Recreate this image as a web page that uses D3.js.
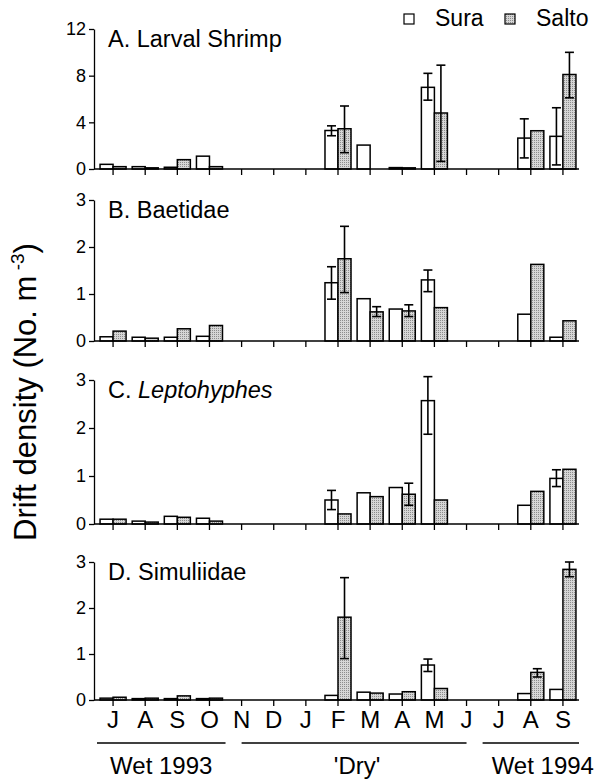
<!DOCTYPE html>
<html>
<head>
<meta charset="utf-8">
<script src="https://cdn.jsdelivr.net/npm/d3@7"></script>
<style>
  body { margin: 0; background: #fff; }
  svg { display: block; font-family: "Liberation Sans", Arial, sans-serif; }
  .axis path, .axis line { stroke: #000; stroke-width: 1.3; }
  .axis text { fill: #000; }
</style>
</head>
<body>
<script>
"use strict";

// months Jul 1993 .. Sep 1994
var monthLabels = ["J", "A", "S", "O", "N", "D", "J", "F", "M", "A", "M", "J", "J", "A", "S"];
var sites = ["Sura", "Salto"];

var shrimpSura = [0.4, 0.2, 0.15, 1.1, 0, 0, 0, 3.3, 2.05, 0.12, 7.0, 0, 0, 2.65, 2.8];
var shrimpSalto = [0.2, 0.1, 0.8, 0.2, 0, 0, 0, 3.45, 0, 0.1, 4.8, 0, 0, 3.28, 8.1];
var shrimpSuraErr = [null, null, null, null, null, null, null, [2.85, 3.7], null, null, [5.9, 8.2], null, null, [0.95, 4.3], [0.35, 5.25]];
var shrimpSaltoErr = [null, null, null, null, null, null, null, [1.4, 5.4], null, null, [0.65, 8.9], null, null, null, [6.1, 10.0]];

var baetidSura = [0.09, 0.08, 0.08, 0.1, 0, 0, 0, 1.24, 0.9, 0.68, 1.3, 0, 0, 0.57, 0.08];
var baetidSalto = [0.21, 0.06, 0.26, 0.33, 0, 0, 0, 1.75, 0.62, 0.64, 0.71, 0, 0, 1.63, 0.43];
var baetidSuraErr = [null, null, null, null, null, null, null, [0.89, 1.58], null, null, [1.05, 1.51], null, null, null, null];
var baetidSaltoErr = [null, null, null, null, null, null, null, [1.03, 2.44], [0.52, 0.73], [0.52, 0.77], null, null, null, null, null];

var leptoSura = [0.1, 0.06, 0.16, 0.12, 0, 0, 0, 0.5, 0.65, 0.76, 2.57, 0, 0, 0.39, 0.95];
var leptoSalto = [0.1, 0.04, 0.14, 0.06, 0, 0, 0, 0.21, 0.57, 0.62, 0.5, 0, 0, 0.68, 1.14];
var leptoSuraErr = [null, null, null, null, null, null, null, [0.3, 0.7], null, null, [1.87, 3.07], null, null, null, [0.78, 1.13]];
var leptoSaltoErr = [null, null, null, null, null, null, null, null, null, [0.39, 0.85], null, null, null, null, null];

var simulSura = [0.04, 0.03, 0.03, 0.03, 0, 0, 0, 0.1, 0.17, 0.13, 0.76, 0, 0, 0.14, 0.23];
var simulSalto = [0.06, 0.04, 0.09, 0.04, 0, 0, 0, 1.8, 0.15, 0.18, 0.25, 0, 0, 0.6, 2.84];
var simulSuraErr = [null, null, null, null, null, null, null, null, null, null, [0.62, 0.89], null, null, null, null];
var simulSaltoErr = [null, null, null, null, null, null, null, [0.9, 2.66], null, null, null, null, null, [0.5, 0.68], [2.68, 3.0]];

var shrimpTicks = [0, 4, 8, 12];
var insectTicks = [0, 1, 2, 3];

var seasonLabels = ["Wet 1993", "'Dry'", "Wet 1994"];
var seasonFirst = [0, 4, 12];
var seasonLast = [3, 11, 14];

var W = 597, H = 780;
var yAxisX = 94;
var FONT = "Liberation Sans, Arial, sans-serif";

var svg = d3.select("body").append("svg").attr("width", W).attr("height", H);

// stippled fill for Salto
var pat = svg.append("defs").append("pattern")
    .attr("id", "stipple").attr("patternUnits", "userSpaceOnUse")
    .attr("width", 2).attr("height", 2);
pat.append("rect").attr("width", 2).attr("height", 2).attr("fill", "#d6d6d6");
pat.append("rect").attr("width", 1).attr("height", 1).attr("fill", "#8c8c8c");

var x = d3.scaleBand().domain(d3.range(monthLabels.length))
    .range([97, 579]).paddingInner(0.19).paddingOuter(0.095);
var xSite = d3.scaleBand().domain(sites).range([0, x.bandwidth()]);
var siteFill = { Sura: "#fff", Salto: "url(#stipple)" };

var panels = [
    { title: ["A. Larval Shrimp"], sura: shrimpSura, salto: shrimpSalto, suraErr: shrimpSuraErr, saltoErr: shrimpSaltoErr, ticks: shrimpTicks, top: 29, zero: 169 },
    { title: ["B. Baetidae"], sura: baetidSura, salto: baetidSalto, suraErr: baetidSuraErr, saltoErr: baetidSaltoErr, ticks: insectTicks, top: 200, zero: 341 },
    { title: ["C. ", "Leptohyphes"], sura: leptoSura, salto: leptoSalto, suraErr: leptoSuraErr, saltoErr: leptoSaltoErr, ticks: insectTicks, top: 380, zero: 524 },
    { title: ["D. Simuliidae"], sura: simulSura, salto: simulSalto, suraErr: simulSuraErr, saltoErr: simulSaltoErr, ticks: insectTicks, top: 562, zero: 700 }
];

function create_panel(p, isLast) {
    var g = svg.append("g");
    var y = d3.scaleLinear().domain([0, d3.max(p.ticks)]).range([p.zero, p.top]);

    var rows = [];
    monthLabels.forEach(function (m, i) {
        rows.push({ i: i, site: "Sura", v: p.sura[i], err: p.suraErr[i] });
        rows.push({ i: i, site: "Salto", v: p.salto[i], err: p.saltoErr[i] });
    });
    var bars = rows.filter(function (d) { return d.v > 0; });

    g.selectAll("rect.bar").data(bars).enter().append("rect")
        .attr("class", "bar")
        .attr("x", function (d) { return x(d.i) + xSite(d.site); })
        .attr("y", function (d) { return y(d.v); })
        .attr("width", xSite.bandwidth())
        .attr("height", function (d) { return y(0) - y(d.v); })
        .attr("fill", function (d) { return siteFill[d.site]; })
        .attr("stroke", "#000").attr("stroke-width", 1.5);

    var errs = rows.filter(function (d) { return d.err; });
    var eg = g.selectAll("g.err").data(errs).enter().append("g")
        .attr("class", "err")
        .attr("transform", function (d) {
            return "translate(" + (x(d.i) + xSite(d.site) + xSite.bandwidth() / 2) + ",0)";
        })
        .attr("stroke", "#000").attr("stroke-width", 1.6);
    eg.append("line")
        .attr("y1", function (d) { return y(d.err[0]); })
        .attr("y2", function (d) { return y(d.err[1]); });
    eg.append("line").attr("x1", -4.5).attr("x2", 4.5)
        .attr("y1", function (d) { return y(d.err[0]); })
        .attr("y2", function (d) { return y(d.err[0]); });
    eg.append("line").attr("x1", -4.5).attr("x2", 4.5)
        .attr("y1", function (d) { return y(d.err[1]); })
        .attr("y2", function (d) { return y(d.err[1]); });

    // baseline
    g.append("line")
        .attr("x1", yAxisX).attr("x2", x.range()[1])
        .attr("y1", y(0)).attr("y2", y(0))
        .attr("stroke", "#000").attr("stroke-width", 1.5);

    var xAxis = d3.axisBottom(x).tickSize(6).tickSizeOuter(0).tickPadding(5)
        .tickFormat(function (i) { return isLast ? monthLabels[i] : ""; });
    var gx = g.append("g").attr("class", "axis")
        .attr("transform", "translate(0," + y(0) + ")")
        .call(xAxis);
    gx.select(".domain").remove();
    gx.selectAll("text").attr("font-size", 24).attr("font-family", FONT);

    var yAxis = d3.axisLeft(y).tickValues(p.ticks).tickFormat(d3.format("d"))
        .tickSize(5).tickSizeOuter(0).tickPadding(3);
    var gy = g.append("g").attr("class", "axis")
        .attr("transform", "translate(" + yAxisX + ",0)")
        .call(yAxis);
    gy.selectAll("text").attr("font-size", 18).attr("font-family", FONT);

    var t = g.append("text").attr("x", 108).attr("y", p.top + 18)
        .attr("font-size", 23.5).attr("fill", "#000");
    p.title.forEach(function (s, k) {
        var ts = t.append("tspan").text(s);
        if (k === 1) ts.attr("font-style", "italic");
    });
}

panels.forEach(function (p, k) { create_panel(p, k === panels.length - 1); });

// legend
var legend = svg.append("g").attr("font-size", 23);
var legendX = { Sura: 404, Salto: 505 };
sites.forEach(function (s) {
    legend.append("rect").attr("x", legendX[s]).attr("y", 14).attr("width", 10).attr("height", 10)
        .attr("fill", siteFill[s]).attr("stroke", "#000").attr("stroke-width", 1.2);
    legend.append("text").attr("x", legendX[s] + 31).attr("y", 26).text(s);
});

// season brackets under the month axis
var seasonPad = [0.5, 0, 0.5];
var seasonDx = [0, 3, 12];
var step = x.step();
seasonLabels.forEach(function (s, k) {
    var c0 = x(seasonFirst[k]) + x.bandwidth() / 2;
    var c1 = x(seasonLast[k]) + x.bandwidth() / 2;
    var x0 = c0 - step * seasonPad[k], x1 = c1 + step * seasonPad[k];
    svg.append("line").attr("x1", x0).attr("x2", x1).attr("y1", 743).attr("y2", 743)
        .attr("stroke", "#000").attr("stroke-width", 1.3);
    svg.append("text").attr("x", (x0 + x1) / 2 + seasonDx[k]).attr("y", 774)
        .attr("text-anchor", "middle").attr("font-size", 24).text(s);
});

// y axis title
var yt = svg.append("text")
    .attr("transform", "translate(36,392) rotate(-90)")
    .attr("text-anchor", "middle").attr("font-size", 31);
yt.append("tspan").text("Drift density (No. m");
yt.append("tspan").attr("font-size", 19).attr("dy", -12).text(" -3");
yt.append("tspan").attr("dy", 12).text(")");
</script>
</body>
</html>
